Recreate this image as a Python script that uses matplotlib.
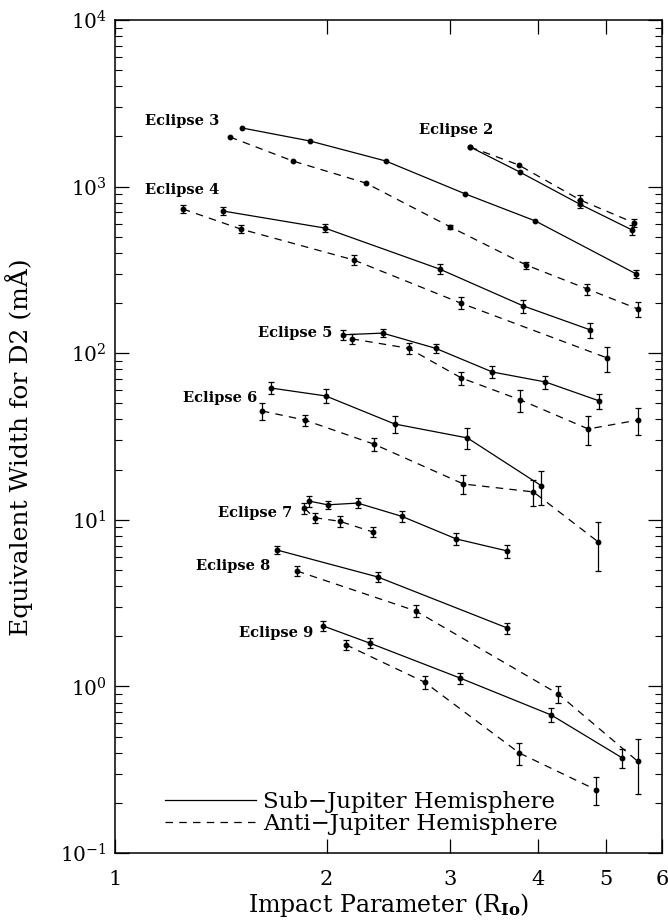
import numpy as np
import matplotlib

matplotlib.use("Agg")
import matplotlib.pyplot as plt
from matplotlib.lines import Line2D
from matplotlib.ticker import LogLocator, NullLocator, NullFormatter

plt.rcParams["font.family"] = ["DejaVu Serif"]
plt.rcParams["mathtext.fontset"] = "dejavuserif"

# impact parameter (R_Io), equivalent width (mA), 1-sigma error (0 = no bar)
e2_sub_x = [3.20, 3.77, 4.58, 5.44]
e2_sub_y = [1730, 1220, 786, 549]
e2_sub_err = [0, 0, 45, 38]
e2_anti_x = [3.20, 3.75, 4.59, 5.48]
e2_anti_y = [1730, 1350, 831, 605]
e2_anti_err = [0, 0, 58, 35]

e3_sub_x = [1.515, 1.892, 2.427, 3.152, 3.963, 5.514]
e3_sub_y = [2250, 1880, 1425, 903, 622, 299]
e3_sub_err = [0, 0, 0, 0, 0, 17]
e3_anti_x = [1.457, 1.790, 2.273, 3.001, 3.848, 4.697, 5.550]
e3_anti_y = [1985, 1425, 1051, 572, 338, 243, 184]
e3_anti_err = [0, 0, 0, 18, 16, 19, 18]

e4_sub_x = [1.423, 1.988, 2.895, 3.811, 4.744]
e4_sub_y = [714, 564, 320, 192, 138]
e4_sub_err = [40, 30, 23, 18, 14]
e4_anti_x = [1.249, 1.510, 2.185, 3.102, 5.015]
e4_anti_y = [734, 556, 363, 200, 93.6]
e4_anti_err = [42, 32, 25, 17, 16]

e5_sub_x = [2.108, 2.403, 2.858, 3.443, 4.095, 4.886]
e5_sub_y = [129, 132, 107, 77.1, 67.2, 51.7]
e5_sub_err = [8.6, 7, 7, 6.6, 6, 5.2]
e5_anti_x = [2.171, 2.616, 3.110, 3.774, 4.713, 5.550]
e5_anti_y = [122, 107, 71.0, 52.4, 35.1, 39.7]
e5_anti_err = [9, 8, 6.4, 8, 7, 7.5]

e6_sub_x = [1.666, 1.994, 2.499, 3.172, 4.042]
e6_sub_y = [61.8, 55.4, 37.6, 31.0, 16.0]
e6_sub_err = [5, 5.2, 4.3, 4.5, 3.7]
e6_anti_x = [1.618, 1.862, 2.333, 3.131, 3.937, 4.870]
e6_anti_y = [45.0, 39.7, 28.5, 16.4, 14.7, 7.36]
e6_anti_err = [5.4, 3, 2.6, 2.1, 2.6, 2.4]

e7_sub_x = [1.886, 2.007, 2.214, 2.557, 3.060, 3.616]
e7_sub_y = [12.97, 12.3, 12.6, 10.5, 7.67, 6.50]
e7_sub_err = [1.0, 0.75, 0.9, 0.83, 0.62, 0.58]
e7_anti_x = [1.860, 1.923, 2.087, 2.327]
e7_anti_y = [11.7, 10.3, 9.8, 8.45]
e7_anti_err = [0.9, 0.73, 0.8, 0.57]

e8_sub_x = [1.699, 2.364, 3.616]
e8_sub_y = [6.59, 4.54, 2.24]
e8_sub_err = [0.34, 0.32, 0.17]
e8_anti_x = [1.814, 2.677, 4.273, 5.538]
e8_anti_y = [4.93, 2.84, 0.90, 0.356]
e8_anti_err = [0.33, 0.23, 0.11, 0.13]

e9_sub_x = [1.975, 2.303, 3.100, 4.176, 5.268]
e9_sub_y = [2.31, 1.82, 1.12, 0.673, 0.372]
e9_sub_err = [0.15, 0.13, 0.085, 0.065, 0.05]
e9_anti_x = [2.129, 2.757, 3.761, 4.839]
e9_anti_y = [1.78, 1.06, 0.398, 0.239]
e9_anti_err = [0.12, 0.09, 0.06, 0.045]

label_text = ["Eclipse 2", "Eclipse 3", "Eclipse 4", "Eclipse 5",
              "Eclipse 6", "Eclipse 7", "Eclipse 8", "Eclipse 9"]
label_x = [2.704, 1.103, 1.103, 1.597, 1.249, 1.401, 1.303, 1.500]
label_y = [2188, 2476, 954, 132, 53.8, 11.0, 5.28, 2.09]

x_ticks = [1, 2, 3, 4, 5, 6]

DASH = (0, (6, 5))


def draw_series(ax, x, y, err, ls):
    x = np.asarray(x)
    y = np.asarray(y)
    err = np.asarray(err)
    ax.plot(x, y, color="black", lw=0.9, ls=ls, marker="o", ms=3.2,
            mfc="black", mec="black", zorder=3)
    has = err > 0
    if has.any():
        ax.errorbar(x[has], y[has], yerr=err[has], fmt="none", ecolor="black",
                    elinewidth=0.9, capsize=2.2, capthick=0.9, zorder=3)


def main():
    fig = plt.figure(figsize=(6.68, 9.22), dpi=100)
    fig.patch.set_facecolor("white")
    ax = fig.add_axes([115 / 668, 1 - 853 / 922, (662 - 115) / 668, (853 - 20) / 922])
    ax.set_xscale("log")
    ax.set_yscale("log")
    ax.set_xlim(1, 6)
    ax.set_ylim(0.1, 1e4)

    series = [
        (e2_sub_x, e2_sub_y, e2_sub_err, e2_anti_x, e2_anti_y, e2_anti_err),
        (e3_sub_x, e3_sub_y, e3_sub_err, e3_anti_x, e3_anti_y, e3_anti_err),
        (e4_sub_x, e4_sub_y, e4_sub_err, e4_anti_x, e4_anti_y, e4_anti_err),
        (e5_sub_x, e5_sub_y, e5_sub_err, e5_anti_x, e5_anti_y, e5_anti_err),
        (e6_sub_x, e6_sub_y, e6_sub_err, e6_anti_x, e6_anti_y, e6_anti_err),
        (e7_sub_x, e7_sub_y, e7_sub_err, e7_anti_x, e7_anti_y, e7_anti_err),
        (e8_sub_x, e8_sub_y, e8_sub_err, e8_anti_x, e8_anti_y, e8_anti_err),
        (e9_sub_x, e9_sub_y, e9_sub_err, e9_anti_x, e9_anti_y, e9_anti_err),
    ]
    for sx, sy, se, ax_, ay, ae in series:
        draw_series(ax, sx, sy, se, "-")
        draw_series(ax, ax_, ay, ae, DASH)

    for t, lx, ly in zip(label_text, label_x, label_y):
        ax.text(lx, ly, t, fontsize=10.5, fontweight="bold", ha="left", va="center")

    # axes cosmetics
    ax.set_xticks(x_ticks)
    ax.set_xticklabels([str(v) for v in x_ticks])
    ax.xaxis.set_minor_locator(NullLocator())
    ax.xaxis.set_minor_formatter(NullFormatter())
    ax.yaxis.set_major_locator(LogLocator(base=10, numticks=10))
    ax.yaxis.set_minor_locator(LogLocator(base=10, subs=np.arange(2, 10), numticks=10))
    ax.yaxis.set_minor_formatter(NullFormatter())
    ax.tick_params(which="both", direction="in", top=True, right=True)
    ax.tick_params(which="major", length=10, width=0.9)
    ax.tick_params(which="minor", length=5, width=0.8)
    ax.tick_params(axis="x", labelsize=15, pad=12)
    ax.tick_params(axis="y", labelsize=14.5, pad=6)
    for sp in ax.spines.values():
        sp.set_linewidth(1.1)

    ax.set_xlabel(r"Impact Parameter (R$_{\mathbf{Io}}$)", fontsize=17)
    ax.xaxis.set_label_coords(0.5, -0.046)
    ax.set_ylabel("Equivalent Width for D2 (mÅ)", fontsize=18)
    ax.yaxis.set_label_coords(-0.15, 0.5 - (447 - 436.5) / 833)

    handles = [Line2D([], [], color="black", lw=0.9, ls="-"),
               Line2D([], [], color="black", lw=0.9, ls=DASH)]
    ax.legend(handles, ["Sub\u2212Jupiter Hemisphere", "Anti\u2212Jupiter Hemisphere"],
              loc="lower left", bbox_to_anchor=(0.091, 0.022), frameon=False,
              fontsize=16.5, handlelength=4.0, handletextpad=0.3,
              labelspacing=0.0, borderpad=0, borderaxespad=0)

    fig.savefig("out.png", dpi=100)
    plt.close(fig)


if __name__ == "__main__":
    main()
